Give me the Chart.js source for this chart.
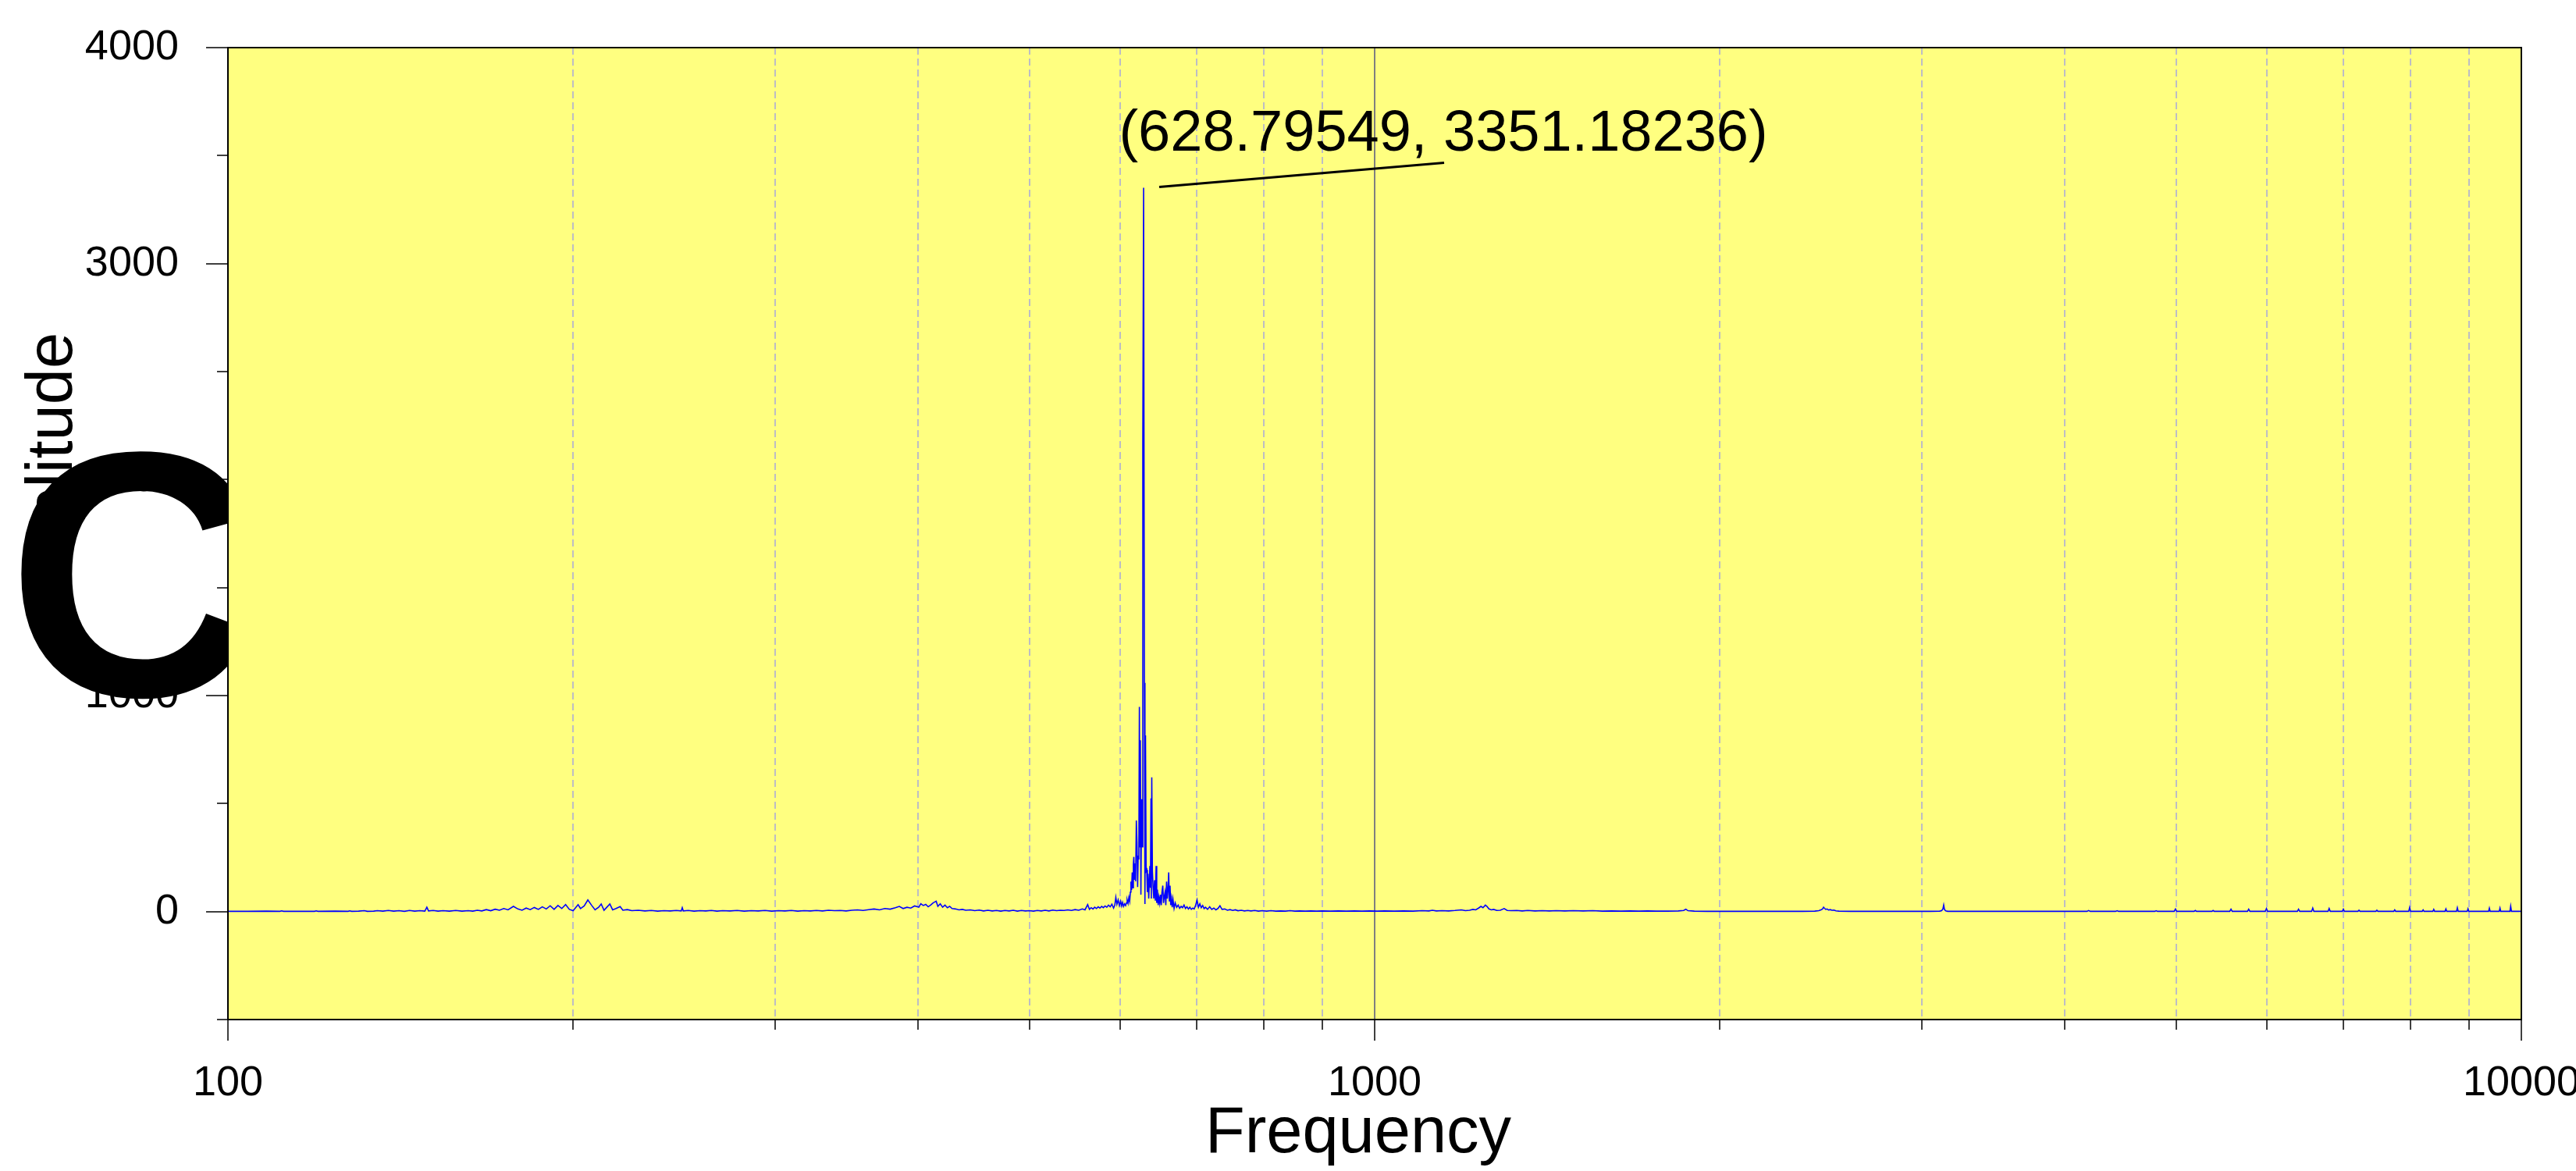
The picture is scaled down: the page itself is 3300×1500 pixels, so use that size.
<!DOCTYPE html>
<html>
<head>
<meta charset="utf-8">
<script src="https://cdn.jsdelivr.net/npm/chart.js@4.4.1/dist/chart.umd.min.js"></script>
<style>html,body{margin:0;padding:0;background:#fff}canvas{display:block}</style>
</head>
<body>
<canvas id="c" width="3300" height="1500"></canvas>
<script>
// ---- data ----
const freq = [
100,104,108,111,111.4,111.8,116,119,119.4,119.8,124,127.3,127.7,128.2,130,131.5,132.3,134,135,136.5,
138,139.5,141,142.5,144,145.5,147,148.5,149.1,149.6,151,152.5,154,156,158,160,162,163.5,165,166.5,
168,169.5,171,172.5,174,175.5,177.4,179,180.5,182,183.5,185,186.5,188,189.5,191,192.5,194,195.5,197,
198.5,200,201,202,203,204.5,206,207.5,209,210.5,211.6,212.8,214,215.3,216.5,218,219.8,221,223,225,
228,231,234,237,240,243,246,248.5,249,249.5,252,255,258,261,264,267,270,274,278,282,
286,290,294,298,302,306,310,314,318,322,326,330,334,338,342,346,350,354,358,362,
366,370,374,378,382,385,388,391,394,397,400.4,402,404,406,408,410,412,414.6,416,418,
420,422,424,426,428,431,434,437,440,444,448,452,456,460,464,468,472,476,480,484,
488,492,496,500,504,508,512,516,520,524,528,532,536,540,544,548,552,556,559,562,
564,566,568,570,572,574,576,578,580,582,584,586,588,590,592,593.5,594.7,596,597.5,599,
600.5,601.7,602.8,604,605.3,606.5,607.5,608.4,609.5,610.5,611.5,612.3,613,613.8,614.6,615.3,616,616.6,617.2,618,
618.8,619.7,620.5,621.3,622,622.8,623.5,624.1,624.7,625.4,626.2,627,627.8,628.79549,629.8,630.5,631.2,632,632.8,633.6,
634.4,635.3,636.1,636.8,637.5,638.2,638.7,639.2,640,640.9,641.8,642.8,643.8,644.8,645.6,646.5,647.5,648.5,649.5,650.5,
651.5,652.4,653.5,654.5,655.5,656.5,657.5,658.5,659.5,660.4,661.3,662.2,663.1,664,665,666,667,668.5,670,672,
674,676,678,680,682,684,686,688,690,692,694,696,698,700,702,704,706,708,710,712,
715,718,721,724,727,730,733,736,740,744,748,752,756,760,765,770,775,780,786,792,
798,805,812,820,828,836,844,852,860,870,880,890,900,915,930,945,960,975,990,1005,
1020,1040,1060,1080,1100,1115,1123,1132,1145,1160,1175,1190,1200,1210,1218,1225,1232,1238,1243,1249,
1253,1258,1264,1270,1278,1287,1297,1305,1315,1330,1345,1360,1380,1400,1420,1440,1465,1490,1520,1550,
1580,1610,1640,1670,1700,1730,1760,1800,1840,1860,1868,1876,1900,1950,2000,2060,2120,2200,2280,2360,
2420,2440,2450,2458,2463,2468,2474,2480,2488,2496,2505,2515,2525,2540,2600,2680,2760,2850,2950,3050,
3110,3122,3130,3135,3140,3148,3160,3250,3400,3550,3700,3850,4000,4180,4194,4208,4428,4441,4454,4790,
4803,4816,4980,4993,5006,5183,5196,5209,5372,5385,5398,5568,5582,5596,5770,5784,5798,5980,5994,6008,
6378,6393,6408,6563,6578,6593,6783,6798,6813,6980,6995,7010,7203,7218,7233,7467,7482,7497,7740,7755,
7770,7976,7991,8006,8195,8210,8225,8372,8387,8402,8579,8594,8609,8779,8794,8809,8969,8984,8999,9363,
9378,9393,9565,9580,9595,9773,9788,9803,10000
];
const amp = [
1,1,2,1,3,1,1,1,3,1,2,1,3,1,2,4,1,2,4,2,
5,2,4,1,5,2,4,2,20,3,5,2,4,2,5,2,4,2,6,3,
9,4,11,6,14,8,24,12,6,16,9,19,10,22,12,27,10,28,14,32,
10,4,18,32,14,26,54,30,8,20,35,6,20,35,8,14,23,6,9,4,
6,3,5,2,4,3,5,3,18,3,5,2,4,3,5,2,4,3,5,2,
4,3,5,2,4,3,5,2,4,3,5,3,6,4,5,3,6,8,5,9,
12,8,14,11,18,24,14,20,16,26,20,36,28,33,22,30,40,48,24,36,
20,30,18,24,14,12,8,10,6,8,4,7,3,6,3,5,2,5,3,6,
2,5,3,4,2,5,3,6,3,7,4,6,5,8,5,9,6,12,8,32,
10,18,12,20,14,22,16,24,18,26,20,30,22,34,16,30,66,34,54,28,
48,26,42,24,36,28,40,54,38,66,48,90,139,100,181,110,217,253,150,223,
140,422,322,114,259,241,948,300,793,78,520,300,2165,3351.18236,1059,35,816,187,193,90,
175,60,140,211,110,524,60,621,187,114,60,145,50,211,40,102,30,66,40,78,
30,90,120,40,70,90,30,139,60,100,181,50,120,30,60,20,57,15,40,20,
30,15,24,18,30,14,22,12,20,10,16,12,28,54,20,36,18,28,14,20,
10,22,10,16,8,14,27,10,12,6,9,5,8,4,6,3,5,3,5,2,
4,2,4,2,3,2,4,2,3,2,3,2,3,2,3,2,3,2,3,2,
3,2,3,2,4,3,6,3,4,3,5,8,4,6,10,8,16,24,18,30,
24,12,8,10,5,6,14,5,4,5,3,5,3,4,3,4,3,4,3,4,
2,3,2,3,2,3,2,2,3,5,11,4,2,1,1,1,1,1,1,1,
2,4,8,12,20,15,10,12,7,9,6,7,3,2,1,1,1,1,1,1,
2,4,12,30,9,3,1,1,1,1,1,1,1,1,5,1,1,4,1,1,
4,1,1,12,1,1,5,1,1,5,1,1,11,1,1,11,1,1,14,1,
1,11,1,1,16,1,1,14,1,1,11,1,1,6,1,1,6,1,1,8,
1,1,19,1,1,8,1,1,10,1,1,12,1,1,18,1,1,13,1,1,
16,1,1,16,1,1,25,1,1
];
const peakFreq = 628.79549;
const peakAmp = 3351.18236;
const xTickValues = [100,200,300,400,500,600,700,800,900,1000,2000,3000,4000,5000,6000,7000,8000,9000,10000];
const xLabelValues = [100,1000,10000];
const yTickValues = [-500,0,500,1000,1500,2000,2500,3000,3500,4000];
const yLabelStep = 1000;
const xTitle = 'Frequency';
const yTitle = 'Amplitude';
const bigGlyph = 'C';
const peakLabel = '(' + peakFreq + ', ' + peakAmp + ')';

// ---- styling ----
const FONT = '"Liberation Sans", Arial, Helvetica, sans-serif';
const PLOT_BG = '#ffff80';

const deco = {
  id: 'deco',
  beforeDraw(chart) {
    const {ctx, chartArea: a} = chart;
    ctx.save();
    ctx.fillStyle = '#ffffff';
    ctx.fillRect(0, 0, chart.width, chart.height);
    // big black glyph behind the plot area
    ctx.fillStyle = '#000';
    ctx.font = 'bold 100px ' + FONT;
    let m = ctx.measureText(bigGlyph);
    const h100 = m.actualBoundingBoxAscent + m.actualBoundingBoxDescent;
    const size = 100 * 318 / h100;
    ctx.font = 'bold ' + size + 'px ' + FONT;
    m = ctx.measureText(bigGlyph);
    ctx.textAlign = 'left';
    ctx.textBaseline = 'alphabetic';
    ctx.fillText(bigGlyph, 23 + m.actualBoundingBoxLeft, 576 + m.actualBoundingBoxAscent);
    // plot background
    ctx.fillStyle = PLOT_BG;
    ctx.fillRect(a.left, a.top, a.right - a.left, a.bottom - a.top);
    ctx.restore();
  },
  beforeDatasetsDraw(chart) {
    const {ctx, chartArea: a, scales: {x}} = chart;
    ctx.save();
    xTickValues.forEach(v => {
      if (v === 100 || v === 10000) return;
      const px = Math.round(x.getPixelForValue(v));
      ctx.beginPath();
      if (v === 1000) {
        ctx.setLineDash([]);
        ctx.strokeStyle = '#7f7f7f';
        ctx.lineWidth = 2;
      } else {
        ctx.setLineDash([9, 5]);
        ctx.strokeStyle = '#bdbdc4';
        ctx.lineWidth = 2;
      }
      ctx.moveTo(px, a.top);
      ctx.lineTo(px, a.bottom);
      ctx.stroke();
    });
    ctx.restore();
  },
  afterDatasetsDraw(chart) {
    const {ctx, chartArea: a, scales: {x, y}} = chart;
    ctx.save();
    ctx.setLineDash([]);
    ctx.strokeStyle = '#000';
    ctx.lineWidth = 2;
    ctx.strokeRect(Math.round(a.left), Math.round(a.top), Math.round(a.right - a.left), Math.round(a.bottom - a.top));
    ctx.lineWidth = 1.5;
    ctx.beginPath();
    xTickValues.forEach(v => {
      const px = Math.round(x.getPixelForValue(v));
      const len = xLabelValues.includes(v) ? 27 : 13;
      ctx.moveTo(px, a.bottom);
      ctx.lineTo(px, a.bottom + len);
    });
    yTickValues.forEach(v => {
      const py = Math.round(y.getPixelForValue(v));
      const len = (v % yLabelStep === 0) ? 28 : 14;
      ctx.moveTo(a.left, py);
      ctx.lineTo(a.left - len, py);
    });
    ctx.stroke();

    // peak annotation
    const px = x.getPixelForValue(peakFreq);
    const py = y.getPixelForValue(peakAmp);
    ctx.lineWidth = 3;
    ctx.beginPath();
    ctx.moveTo(px + 20, py - 1);
    ctx.lineTo(px + 385, py - 32);
    ctx.stroke();
    ctx.fillStyle = '#000';
    ctx.font = '74px ' + FONT;
    ctx.textAlign = 'center';
    ctx.textBaseline = 'alphabetic';
    ctx.fillText(peakLabel, px + 384, py - 48);
    ctx.restore();
  },
  afterDraw(chart) {
    const {ctx, chartArea: a} = chart;
    ctx.save();
    ctx.fillStyle = '#000';
    ctx.font = '83px ' + FONT;
    ctx.textAlign = 'center';
    ctx.textBaseline = 'alphabetic';
    ctx.fillText(xTitle, (a.left + a.right) / 2 - 21, 1476);
    ctx.translate(92, (a.top + a.bottom) / 2 - 73);
    ctx.rotate(-Math.PI / 2);
    ctx.fillText(yTitle, 0, 0);
    ctx.restore();
  }
};

const points = freq.map((f, i) => ({x: f, y: amp[i]}));

new Chart(document.getElementById('c').getContext('2d'), {
  type: 'line',
  data: {
    datasets: [{
      label: yTitle,
      data: points,
      borderColor: '#0000ff',
      borderWidth: 1.6,
      pointRadius: 0,
      tension: 0,
      fill: false
    }]
  },
  options: {
    responsive: false,
    animation: false,
    devicePixelRatio: 1,
    layout: {padding: {top: 61, right: 70, bottom: 0, left: 0}},
    plugins: {legend: {display: false}, tooltip: {enabled: false}},
    scales: {
      x: {
        type: 'logarithmic',
        min: 100, max: 10000,
        afterBuildTicks: s => { s.ticks = xTickValues.map(v => ({value: v})); },
        ticks: {
          autoSkip: false, maxRotation: 0, minRotation: 0, padding: 42,
          color: '#000', font: {family: FONT, size: 54},
          callback: v => xLabelValues.includes(v) ? String(v) : ''
        },
        grid: {display: false},
        border: {display: false},
        title: {display: false},
        afterFit: s => { s.height = 194; s.paddingLeft = 0; s.paddingRight = 0; }
      },
      y: {
        type: 'linear',
        min: -500, max: 4000,
        afterBuildTicks: s => { s.ticks = yTickValues.map(v => ({value: v})); },
        ticks: {
          autoSkip: false, padding: 55,
          color: '#000', font: {family: FONT, size: 54},
          callback: v => (v % yLabelStep === 0) ? String(v) : ''
        },
        grid: {display: false},
        border: {display: false},
        title: {display: false},
        afterFit: s => { s.width = 292; s.paddingTop = 0; s.paddingBottom = 0; }
      }
    }
  },
  plugins: [deco]
});
</script>
</body>
</html>
